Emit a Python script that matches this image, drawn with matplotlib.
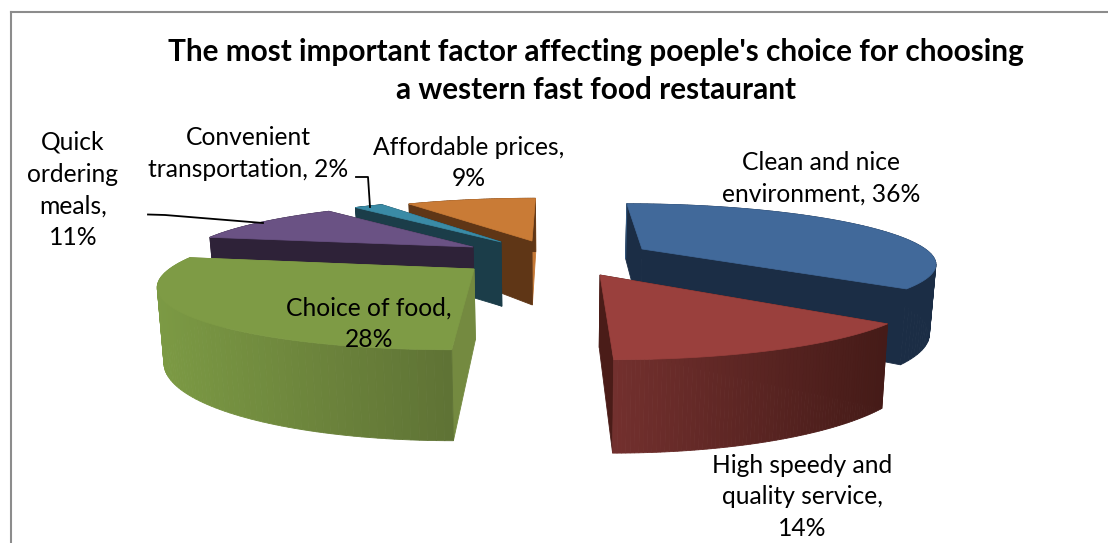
import numpy as np
import matplotlib
matplotlib.use('Agg')
import matplotlib.pyplot as plt
from matplotlib.colors import to_rgb

plt.rcParams['font.family'] = ['Lato', 'DejaVu Sans']

# 数据
categories = ['Clean and nice\nenvironment, 36%', 'High speedy and\nquality service,\n14%',
              'Choice of food,\n28%', 'Quick\nordering\nmeals,\n11%',
              'Convenient\ntransportation, 2%', 'Affordable prices,\n9%']
values = [36, 14, 28, 11, 2, 9]
title = "The most important factor affecting poeple's choice for choosing\na western fast food restaurant"

# 每块扇形顶点在图上的位置（爆炸效果）
apex = [(642, 249), (600, 275), (474, 269), (473, 247), (501, 242), (532, 241)]
label_pos = [(821, 178), (802, 497), (369, 324), (73, 190), (248, 153.5), (469, 163)]

# 颜色: 顶面, 外壁左右两端, 两个侧面
top_col = ['#41699a', '#9a403d', '#7e9b45', '#6a5284', '#3a8ba6', '#c97b36']
rim_l = ['#1b2d45', '#73302e', '#7c9a44', '#2e2238', '#1b3d49', '#5f3616']
rim_r = ['#1b2d45', '#451b18', '#5f7335', '#2e2238', '#1b3d49', '#5f3616']
side_a = ['#1b2d45', '#4a1c18', '#748a40', '#2e2238', '#1b3d49', '#5f3616']
side_b = ['#1b2d45', '#4a1c18', '#748a40', '#2e2238', '#1b3d49', '#c47734']
draw_order = [0, 5, 4, 3, 1, 2]

# 透视参数
vx, vy = 553, -17
g = 1.065
m = 7.7e-4
h = 0.248
shrink = 0.983


def bottom(sx, sy):
    return vx + (sx - vx) * shrink, vy + (1 + h) * (sy - vy)


def mix(c1, c2, f):
    a = np.array(to_rgb(c1))
    b = np.array(to_rgb(c2))
    return a + (b - a) * f


fig = plt.figure(figsize=(11.08, 5.43), dpi=100)
ax = fig.add_axes([0, 0, 1, 1])
ax.set_xlim(0, 1108)
ax.set_ylim(543, 0)
ax.axis('off')

ends = np.cumsum(values) / np.sum(values) * 2 * np.pi
starts = np.concatenate([[0], ends[:-1]])

for i in draw_order:
    ax0, ay0 = apex[i]
    th = np.linspace(starts[i], ends[i], 80)
    # 透视：越靠后越小
    t = 1 / (1 / (ay0 - vy) + m * np.cos(th))
    sx = vx + ((ax0 - vx) / (ay0 - vy) + g * np.sin(th)) * t
    sy = vy + t
    bx, by = bottom(sx, sy)
    abx, aby = bottom(ax0, ay0)

    # 收集所有侧面，从后往前画
    walls = [(min(ay0, sy[0]), [ax0, sx[0], bx[0], abx], [ay0, sy[0], by[0], aby], side_a[i]),
             (min(ay0, sy[-1]), [ax0, sx[-1], bx[-1], abx], [ay0, sy[-1], by[-1], aby], side_b[i])]
    for j in range(len(th) - 1):
        f = (sx[j] - sx.min()) / (sx.max() - sx.min())
        walls.append((sy[j], [sx[j], sx[j + 1], bx[j + 1], bx[j]], [sy[j], sy[j + 1], by[j + 1], by[j]],
                      mix(rim_l[i], rim_r[i], f)))
    walls.sort(key=lambda w: w[0])
    for _, wx, wy, col in walls:
        ax.fill(wx, wy, color=col, lw=0.6)
    # 蓝色块的竖边是浅色细线
    if i == 0:
        ax.plot([sx[0], bx[0]], [sy[0], by[0]], color='#34587f', lw=0.8)
    # 顶面
    ax.fill(np.r_[ax0, sx], np.r_[ay0, sy], color=top_col[i], lw=0.5)

# 引导线
ax.plot([148, 165, 263], [214.5, 215, 223], color='black', lw=1.3)
ax.plot([356, 368, 370], [177, 177, 207], color='black', lw=1.3)

# 边框
ax.plot([11, 11], [543, 12], color='#8c8c8c', lw=1.5)
ax.plot([11, 1108], [12, 12], color='#8c8c8c', lw=1.5)

for lab, (x, y) in zip(categories, label_pos):
    ax.text(x, y, lab, ha='center', va='center', fontsize=17.7, color='black', linespacing=1.47)
ax.text(595.5, 71, title, ha='center', va='center', fontsize=21.45, fontweight='bold', color='black', linespacing=1.455)

fig.savefig('out.png', dpi=100)
